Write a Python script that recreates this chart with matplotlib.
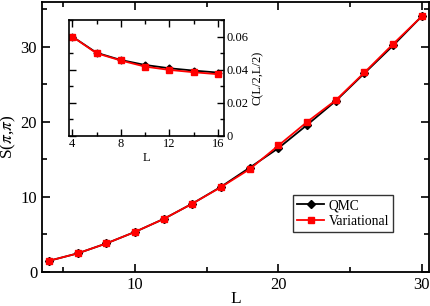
import matplotlib
matplotlib.use("Agg")
import matplotlib.pyplot as plt
from matplotlib.ticker import MultipleLocator

plt.rcParams['font.family'] = ['Liberation Serif', 'DejaVu Serif']
plt.rcParams['mathtext.fontset'] = 'stix'

L_main = [4, 6, 8, 10, 12, 14, 16, 18, 20, 22, 24, 26, 28, 30]
S_qmc = [1.46, 2.45, 3.78, 5.32, 7.05, 9.1, 11.35, 13.9, 16.5, 19.6, 22.8, 26.5, 30.2, 34.1]
S_var = [1.46, 2.45, 3.78, 5.32, 7.05, 9.1, 11.3, 13.7, 16.85, 20.0, 22.9, 26.6, 30.4, 34.1]

L_in = [4, 6, 8, 10, 12, 14, 16]
C_qmc = [0.0600, 0.0502, 0.0458, 0.0428, 0.0408, 0.0394, 0.0382]
C_var = [0.0600, 0.0499, 0.0455, 0.0418, 0.0398, 0.0384, 0.0372]

W, H = 431, 306
fig = plt.figure(figsize=(W/100, H/100), dpi=100)
ax = fig.add_axes([42/W, 1 - 271.7/H, (429-42)/W, (271.7-2)/H])

ax.plot(L_main, S_qmc, color='black', marker='D', markersize=4, lw=1.3, label='QMC')
ax.plot(L_main, S_var, color='red', marker='s', markersize=5, lw=1.3, label='Variational')
ax.set_xlim(3.5, 30.5)
ax.set_ylim(0, 36)
ax.xaxis.set_major_locator(MultipleLocator(10))
ax.xaxis.set_minor_locator(MultipleLocator(5))
ax.yaxis.set_major_locator(MultipleLocator(10))
ax.yaxis.set_minor_locator(MultipleLocator(5))
ax.tick_params(which='both', direction='in', top=True, right=True, labelsize=12, width=1.2)
ax.tick_params(which='major', length=6)
ax.tick_params(which='minor', length=3.5)
for s in ax.spines.values():
    s.set_linewidth(1.3)
ax.set_xlabel('L', fontsize=12.5, labelpad=-1)
ax.set_ylabel(r'S($\pi$,$\pi$)', fontsize=12.5, labelpad=2)

leg = ax.legend(loc='lower right', bbox_to_anchor=(393/W, 1 - 232/H),
                bbox_transform=fig.transFigure, fontsize=9.8,
                frameon=True, fancybox=False, edgecolor='black', handlelength=2.0,
                borderpad=0.3, labelspacing=0.2, handletextpad=0.3, borderaxespad=0)
leg.get_frame().set_linewidth(1.0)

ins = fig.add_axes([69.3/W, 1 - 135.7/H, (224 - 69.3)/W, (135.7 - 20)/H])
ins.plot(L_in, C_qmc, color='black', marker='D', markersize=3.5, lw=1.3)
ins.plot(L_in, C_var, color='red', marker='s', markersize=5, lw=1.3)
ins.set_xlim(3.76, 16.5)
ins.set_ylim(0, 0.07)
ins.xaxis.set_major_locator(MultipleLocator(4))
ins.xaxis.set_minor_locator(MultipleLocator(2))
ins.yaxis.set_major_locator(MultipleLocator(0.02))
ins.yaxis.set_minor_locator(MultipleLocator(0.01))
ins.yaxis.set_major_formatter(matplotlib.ticker.FuncFormatter(lambda v, p: '0' if abs(v) < 1e-9 else f'{v:.2f}'))
ins.tick_params(which='both', direction='in', top=True, right=True, left=True,
                labelleft=False, labelright=True, labelsize=9, width=1.0, pad=2)
ins.tick_params(which='major', length=5)
ins.tick_params(which='minor', length=3)
for s in ins.spines.values():
    s.set_linewidth(1.2)
ins.set_xlabel('L', fontsize=9, labelpad=1)
ins.yaxis.set_label_position('right')
ins.set_ylabel('C(L/2,L/2)', fontsize=9, labelpad=2)

fig.savefig('out.png', dpi=100)
